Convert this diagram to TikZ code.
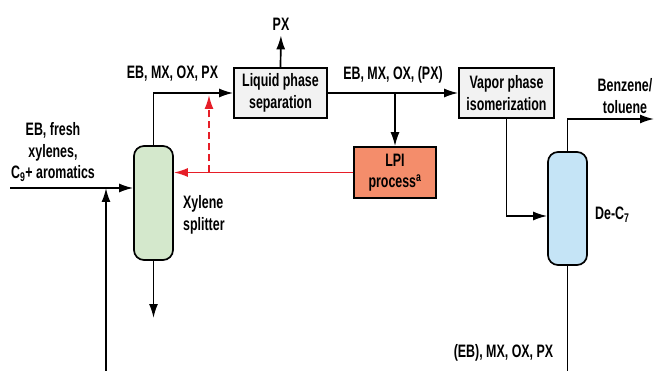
\documentclass[tikz,border=0pt]{standalone}
\usepackage{fontspec}
\setmainfont{Liberation Sans}[FakeStretch=0.69]
\usepackage{tikz}
\usetikzlibrary{arrows.meta,positioning,calc}
\definecolor{lpired}{RGB}{230,30,40}
\definecolor{splitgreen}{RGB}{212,232,204}
\definecolor{decblue}{RGB}{197,228,246}
\definecolor{boxgray}{RGB}{242,242,242}
\definecolor{lpisalmon}{RGB}{244,141,107}
\tikzset{
  unit/.style={draw,line width=1.7pt,fill=boxgray,align=center,
               inner sep=0pt,minimum height=50pt},
  col/.style={draw,line width=1.7pt,rounded corners=10pt,
              minimum width=39pt,inner sep=0pt},
  fl/.style={-{Latex[length=14pt,width=9pt]},line width=1.7pt},
  lbl/.style={align=center,inner sep=0pt},
}

\begin{document}
\begin{tikzpicture}[
    x=1pt,y=-1pt,
    every node/.style={font=\fontsize{18}{21.5}\selectfont\bfseries},
    recyc/.style={fl,lpired}
  ]
    \useasboundingbox (0,0) rectangle (655,371);
    \node[unit,minimum width=93pt] (liq) at (280.5,93)
      {Liquid phase\\separation};
    \node[unit,minimum width=95pt] (vap) at (506.5,93)
      {Vapor phase\\isomerization};
    \node[unit,fill=lpisalmon,minimum width=82pt,minimum height=51pt] (lpi)
      at (395,172.5) {LPI\\process\textsuperscript{a}};
    \node[col,fill=splitgreen,minimum height=114pt] (xs) at (153.5,203) {};
    \node[col,fill=decblue,minimum height=113pt] (dc) at (567.5,208.5) {};

    \node[lbl] (feed) at (53,152)
      {EB, fresh\\xylenes,\\C\textsubscript{9}+ aromatics};
    \node[lbl,align=left,anchor=west] (xslbl) at (183,215) {Xylene\\splitter};
    \node[lbl,anchor=west] (dclbl) at (595,215) {De-C\textsubscript{7}};
    \node[lbl] (px) at (281,24) {PX};
    \node[lbl] (toplbl) at (172.5,74) {EB, MX, OX, PX};
    \node[lbl] (midlbl) at (393,75) {EB, MX, OX, (PX)};
    \node[lbl] (bzlbl) at (625,96) {Benzene/\\toluene};
    \node[lbl] (botlbl) at (503.5,353) {(EB), MX, OX, PX};

    \coordinate (feedin) at (10,188);
    \coordinate (recin) at (106,371);
    \coordinate (xsbot) at (153.5,318);
    \coordinate (lpiout) at (209,172.5);
    \coordinate (dcin) at (507,216);
    \coordinate (bzout) at (654,119);
    \coordinate (dcbot) at (567.5,371);

    \draw[fl] (feedin) -- (feedin -| xs.west);
    \draw[fl] (recin) -- (recin |- feedin);
    \draw[fl] (xs.north) |- (liq.west);
    \draw[fl] (xs.south) -- (xsbot);
    \draw[fl,shorten >=5pt] (liq.north) -- (px.south);
    \draw[fl] (liq.east) -- (vap.west);
    \draw[fl] (lpi.north |- liq.east) -- (lpi.north);
    \draw[recyc] (lpi.west) -- (lpi.west -| xs.east);
    \draw[recyc,dash pattern=on 7pt off 4pt,shorten >=2pt] (lpiout) -- (lpiout |- liq.west);
    \draw[fl] (vap.south) |- (dc.west |- dcin);
    \draw[fl] (dc.north) |- (bzout);
    \draw[line width=1.7pt] (dc.south) -- (dcbot);
  \end{tikzpicture}
\end{document}
